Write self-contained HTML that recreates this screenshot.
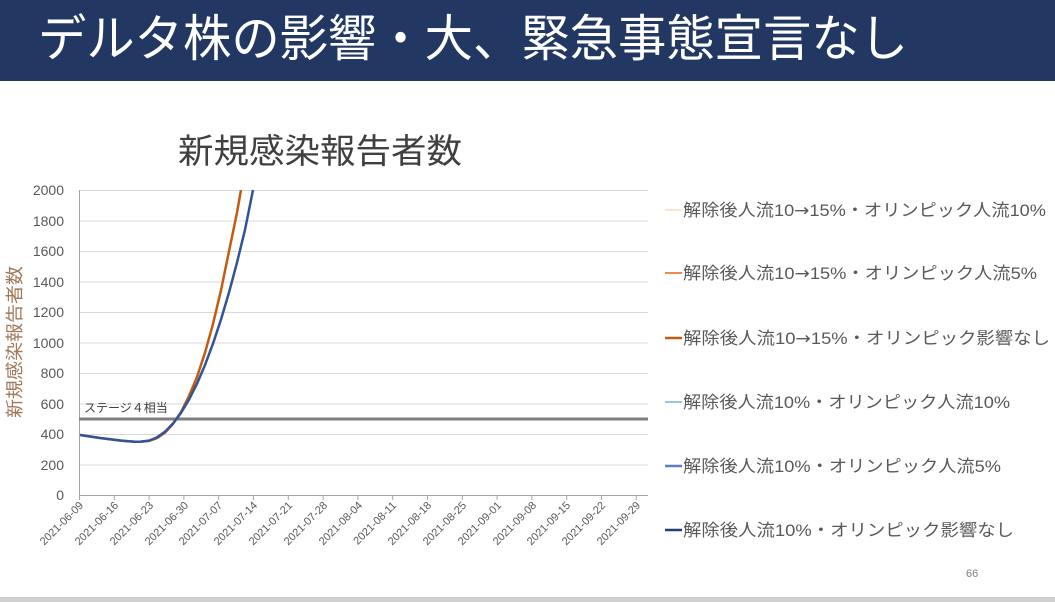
<!DOCTYPE html>
<html><head><meta charset="utf-8"><style>
html,body{margin:0;padding:0;background:#fff;}
svg{display:block;}
text{font-family:"Liberation Sans","Noto Sans CJK JP",sans-serif;}
</style></head><body>
<svg width="1055" height="602" viewBox="0 0 1055 602" xmlns="http://www.w3.org/2000/svg">
<rect x="0" y="0" width="1055" height="81" fill="#223862"/>
<text x="38" y="56" font-size="50" fill="#fff" textLength="870" lengthAdjust="spacingAndGlyphs">デルタ株の影響・大、緊急事態宣言なし</text>
<text x="320" y="163" font-size="34" fill="#404040" text-anchor="middle" textLength="284" lengthAdjust="spacingAndGlyphs">新規感染報告者数</text>
<g stroke="#d9d9d9" stroke-width="1">
<line x1="79" x2="648" y1="190.5" y2="190.5"/><line x1="79" x2="648" y1="221" y2="221"/>
<line x1="79" x2="648" y1="251.5" y2="251.5"/><line x1="79" x2="648" y1="282" y2="282"/>
<line x1="79" x2="648" y1="312.5" y2="312.5"/><line x1="79" x2="648" y1="343" y2="343"/>
<line x1="79" x2="648" y1="373.5" y2="373.5"/><line x1="79" x2="648" y1="404" y2="404"/>
<line x1="79" x2="648" y1="434.5" y2="434.5"/><line x1="79" x2="648" y1="465" y2="465"/>
</g>
<line x1="79" x2="648" y1="495.5" y2="495.5" stroke="#a6a6a6"/>
<line x1="79.5" x2="79.5" y1="190" y2="495" stroke="#a6a6a6"/>
<g stroke="#a6a6a6">
<line x1="79.5" x2="79.5" y1="495" y2="500"/><line x1="114.3" x2="114.3" y1="495" y2="500"/><line x1="149.1" x2="149.1" y1="495" y2="500"/><line x1="183.9" x2="183.9" y1="495" y2="500"/><line x1="218.7" x2="218.7" y1="495" y2="500"/><line x1="253.5" x2="253.5" y1="495" y2="500"/><line x1="288.3" x2="288.3" y1="495" y2="500"/><line x1="323.1" x2="323.1" y1="495" y2="500"/><line x1="357.9" x2="357.9" y1="495" y2="500"/><line x1="392.7" x2="392.7" y1="495" y2="500"/><line x1="427.5" x2="427.5" y1="495" y2="500"/><line x1="462.3" x2="462.3" y1="495" y2="500"/><line x1="497.1" x2="497.1" y1="495" y2="500"/><line x1="531.9" x2="531.9" y1="495" y2="500"/><line x1="566.7" x2="566.7" y1="495" y2="500"/><line x1="601.5" x2="601.5" y1="495" y2="500"/><line x1="636.3" x2="636.3" y1="495" y2="500"/>
</g>
<g font-size="14" fill="#595959" text-anchor="end">
<text x="64" y="195">2000</text><text x="64" y="226">1800</text><text x="64" y="256">1600</text><text x="64" y="287">1400</text><text x="64" y="317">1200</text><text x="64" y="348">1000</text><text x="64" y="378">800</text><text x="64" y="409">600</text><text x="64" y="439">400</text><text x="64" y="470">200</text><text x="64" y="500">0</text>
</g>
<g font-size="11" fill="#595959" text-anchor="end">
<text transform="translate(84,506) rotate(-45)">2021-06-09</text>
<text transform="translate(119,506) rotate(-45)">2021-06-16</text>
<text transform="translate(154,506) rotate(-45)">2021-06-23</text>
<text transform="translate(189,506) rotate(-45)">2021-06-30</text>
<text transform="translate(223,506) rotate(-45)">2021-07-07</text>
<text transform="translate(258,506) rotate(-45)">2021-07-14</text>
<text transform="translate(293,506) rotate(-45)">2021-07-21</text>
<text transform="translate(328,506) rotate(-45)">2021-07-28</text>
<text transform="translate(363,506) rotate(-45)">2021-08-04</text>
<text transform="translate(397,506) rotate(-45)">2021-08-11</text>
<text transform="translate(432,506) rotate(-45)">2021-08-18</text>
<text transform="translate(467,506) rotate(-45)">2021-08-25</text>
<text transform="translate(502,506) rotate(-45)">2021-09-01</text>
<text transform="translate(537,506) rotate(-45)">2021-09-08</text>
<text transform="translate(571,506) rotate(-45)">2021-09-15</text>
<text transform="translate(606,506) rotate(-45)">2021-09-22</text>
<text transform="translate(641,506) rotate(-45)">2021-09-29</text>
</g>
<text transform="translate(21,342) rotate(-90)" font-size="18" fill="#a0785a" text-anchor="middle" textLength="152" lengthAdjust="spacingAndGlyphs">新規感染報告者数</text>
<line x1="79" x2="648" y1="419" y2="419" stroke="#7f7f7f" stroke-width="3"/>
<text x="84" y="412" font-size="12" fill="#404040">ステージ４相当</text>
<polyline points="80,435 100,438 120,440.5 135,441.8 141,441.6 149,440.9 157,438.1 165,432.6 173,423.9 181,412.1 189,396 197,377 205,352.7 213,323.9 221,290.2 229,251.3 237,212.6 241,190" fill="none" stroke="#c55a11" stroke-width="2.5" stroke-linejoin="round"/>
<polyline points="80,435 100,438 120,440.5 135,441.8 141,441.6 149,440.6 157,437.4 165,431.7 173,423.5 181,412.9 189,399.6 197,383.7 205,365.1 213,343.6 221,319.5 229,292.5 237,262.6 245,229.8 253,190" fill="none" stroke="#2f5597" stroke-width="2.5" stroke-linejoin="round"/>
<g font-size="17" fill="#595959">
<line x1="665" x2="682" y1="210" y2="210" stroke="#fbe5d6" stroke-width="2"/><text x="683" y="216" textLength="363" lengthAdjust="spacingAndGlyphs">解除後人流10<tspan font-family="DejaVu Sans">→</tspan>15%・オリンピック人流10%</text>
<line x1="665" x2="682" y1="273" y2="273" stroke="#f08a4b" stroke-width="2"/><text x="683" y="279" textLength="354" lengthAdjust="spacingAndGlyphs">解除後人流10<tspan font-family="DejaVu Sans">→</tspan>15%・オリンピック人流5%</text>
<line x1="665" x2="682" y1="338" y2="338" stroke="#c55a11" stroke-width="2.5"/><text x="683" y="344" textLength="367" lengthAdjust="spacingAndGlyphs">解除後人流10<tspan font-family="DejaVu Sans">→</tspan>15%・オリンピック影響なし</text>
<line x1="665" x2="682" y1="402" y2="402" stroke="#9dc3e6" stroke-width="2"/><text x="683" y="408" textLength="327" lengthAdjust="spacingAndGlyphs">解除後人流10%・オリンピック人流10%</text>
<line x1="665" x2="682" y1="466" y2="466" stroke="#5b80c8" stroke-width="2.5"/><text x="683" y="472" textLength="318" lengthAdjust="spacingAndGlyphs">解除後人流10%・オリンピック人流5%</text>
<line x1="665" x2="682" y1="530" y2="530" stroke="#203f7a" stroke-width="2.5"/><text x="683" y="536" textLength="331" lengthAdjust="spacingAndGlyphs">解除後人流10%・オリンピック影響なし</text>
</g>
<text x="966" y="577" font-size="11" fill="#808080">66</text>
<rect x="0" y="597" width="1055" height="5" fill="#d0d0d0"/>
</svg>
</body></html>
